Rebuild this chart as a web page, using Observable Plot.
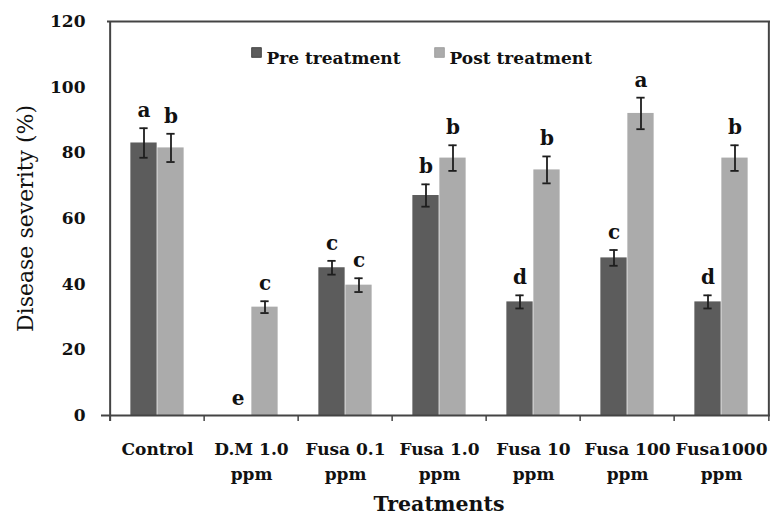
<!DOCTYPE html>
<html>
<head>
<meta charset="utf-8">
<script src="https://cdn.jsdelivr.net/npm/d3@7"></script>
<script src="https://cdn.jsdelivr.net/npm/@observablehq/plot@0.6"></script>
<style>
  html, body { margin: 0; padding: 0; background: #fff; }
  svg { font-family: "DejaVu Serif", serif; }
</style>
</head>
<body>
<div id="chart"></div>
<script>
const treatments = ["Control", "D.M 1.0 ppm", "Fusa 0.1 ppm", "Fusa 1.0 ppm", "Fusa 10 ppm", "Fusa 100 ppm", "Fusa1000 ppm"];
const tickLabels = ["Control", "D.M 1.0\nppm", "Fusa 0.1\nppm", "Fusa 1.0\nppm", "Fusa 10\nppm", "Fusa 100\nppm", "Fusa1000\nppm"];
const series = ["Pre treatment", "Post treatment"];
const preValues = [83, 0, 45, 67, 34.6, 48, 34.6];
const preErrors = [4.5, 0, 2.1, 3.4, 2.0, 2.4, 2.0];
const preLetters = ["a", "e", "c", "b", "d", "c", "d"];
const postValues = [81.5, 33, 39.7, 78.4, 74.8, 92, 78.4];
const postErrors = [4.3, 1.8, 2.1, 3.9, 4.1, 4.8, 3.9];
const postLetters = ["b", "c", "c", "b", "b", "a", "b"];
const yTicks = [0, 20, 40, 60, 80, 100, 120];
const colors = ["#5c5c5c", "#ababab"];

const W = 772, H = 521;
const mL = 107, mR = 2, mT = 21, mB = 106;
const bw = (W - mL - mR) / treatments.length;
const outer = 0.215 * bw;
const barW = (bw - 2 * outer) / 2;
const capHalf = 4.5;

const rows = [];
treatments.forEach((t, i) => {
  rows.push({t, s: series[0], v: preValues[i], e: preErrors[i], l: preLetters[i], k: 0});
  rows.push({t, s: series[1], v: postValues[i], e: postErrors[i], l: postLetters[i], k: 1});
});

const marks = [];
[0, 1].forEach(k => {
  const data = rows.filter(d => d.k === k);
  const dx = k === 0 ? -barW / 2 : barW / 2;
  const inL = k === 0 ? outer : outer + barW;
  const inR = k === 0 ? outer + barW : outer;
  marks.push(Plot.barY(data, {x: "t", y: "v", fill: colors[k], insetLeft: inL, insetRight: inR}));
  const withErr = data.filter(d => d.e > 0);
  marks.push(Plot.ruleX(withErr, {x: "t", y1: d => d.v - d.e, y2: d => d.v + d.e, dx, stroke: "#1e1e1e", strokeWidth: 1.8}));
  marks.push(Plot.tickY(withErr, {x: "t", y: d => d.v + d.e, stroke: "#1e1e1e", strokeWidth: 1.8,
    insetLeft: bw / 2 + dx - capHalf, insetRight: bw / 2 - dx - capHalf}));
  marks.push(Plot.tickY(withErr, {x: "t", y: d => d.v - d.e, stroke: "#1e1e1e", strokeWidth: 1.8,
    insetLeft: bw / 2 + dx - capHalf, insetRight: bw / 2 - dx - capHalf}));
  marks.push(Plot.text(data, {x: "t", y: d => d.v + d.e, text: "l", dx, dy: -11, lineAnchor: "bottom",
    fontSize: 20, fontWeight: "bold", fill: "#111"}));
});

// frame: top and right lines
marks.push(Plot.ruleY([120], {stroke: "#444", strokeWidth: 2}));
marks.push(Plot.ruleX([treatments[treatments.length - 1]], {dx: bw / 2, stroke: "#444", strokeWidth: 2}));
// x axis baseline and band-boundary ticks
marks.push(Plot.ruleY([0], {stroke: "#444", strokeWidth: 2, insetLeft: -6}));
marks.push(Plot.ruleX(treatments, {x: d => d, y1: 0, y2: 0, dx: -bw / 2, insetBottom: -6, stroke: "#444", strokeWidth: 1.5}));
marks.push(Plot.ruleX([treatments[treatments.length - 1]], {y1: 0, y2: 0, dx: bw / 2, insetBottom: -6, stroke: "#444", strokeWidth: 1.5}));
// y axis line
marks.push(Plot.ruleX([treatments[0]], {dx: -bw / 2, stroke: "#444", strokeWidth: 2, insetBottom: -6}));

// legend inside plot
const legendX = [149, 332];
series.forEach((s, k) => {
  marks.push(Plot.dot([s], {frameAnchor: "top-left", dx: legendX[k], dy: 31, symbol: "square", r: 5.5,
    fill: colors[k], stroke: k === 0 ? "#333" : "#999", strokeWidth: 0.8}));
  marks.push(Plot.text([s], {frameAnchor: "top-left", dx: legendX[k] + 10, dy: 30, text: d => d,
    textAnchor: "start", fontSize: 17, fontWeight: "bold", fill: "#111"}));
});

// y tick labels as a text mark so that font size is controlled directly
marks.push(Plot.tickY(yTicks, {y: d => d, x: treatments[0], insetLeft: -6, insetRight: bw, stroke: "#444", strokeWidth: 1.5}));
marks.push(Plot.text(yTicks, {y: d => d, frameAnchor: "left", dx: -22, textAnchor: "end", text: d => String(d),
  fontSize: 17, fontWeight: "bold", fill: "#111"}));
marks.push(Plot.axisX({tickSize: 0, tickPadding: 22, fontSize: 17, fontWeight: "bold", lineHeight: 1.45,
  tickFormat: d => tickLabels[treatments.indexOf(d)], label: null}));
marks.push(Plot.text(["Disease severity (%)"], {frameAnchor: "left", dx: -82, rotate: -90, textAnchor: "middle",
  text: d => d, fontSize: 22, fill: "#111"}));
marks.push(Plot.text(["Treatments"], {frameAnchor: "bottom", dy: 95, text: d => d, fontSize: 20.5, fontWeight: "bold", fill: "#111"}));

const chart = Plot.plot({
  width: W, height: H,
  marginLeft: mL, marginRight: mR, marginTop: mT, marginBottom: mB,
  x: {domain: treatments, padding: 0, axis: null},
  y: {domain: [0, 120], axis: null},
  style: {fontFamily: "DejaVu Serif, serif", color: "#111", background: "#fff"},
  marks
});
document.getElementById("chart").appendChild(chart);
</script>
</body>
</html>
